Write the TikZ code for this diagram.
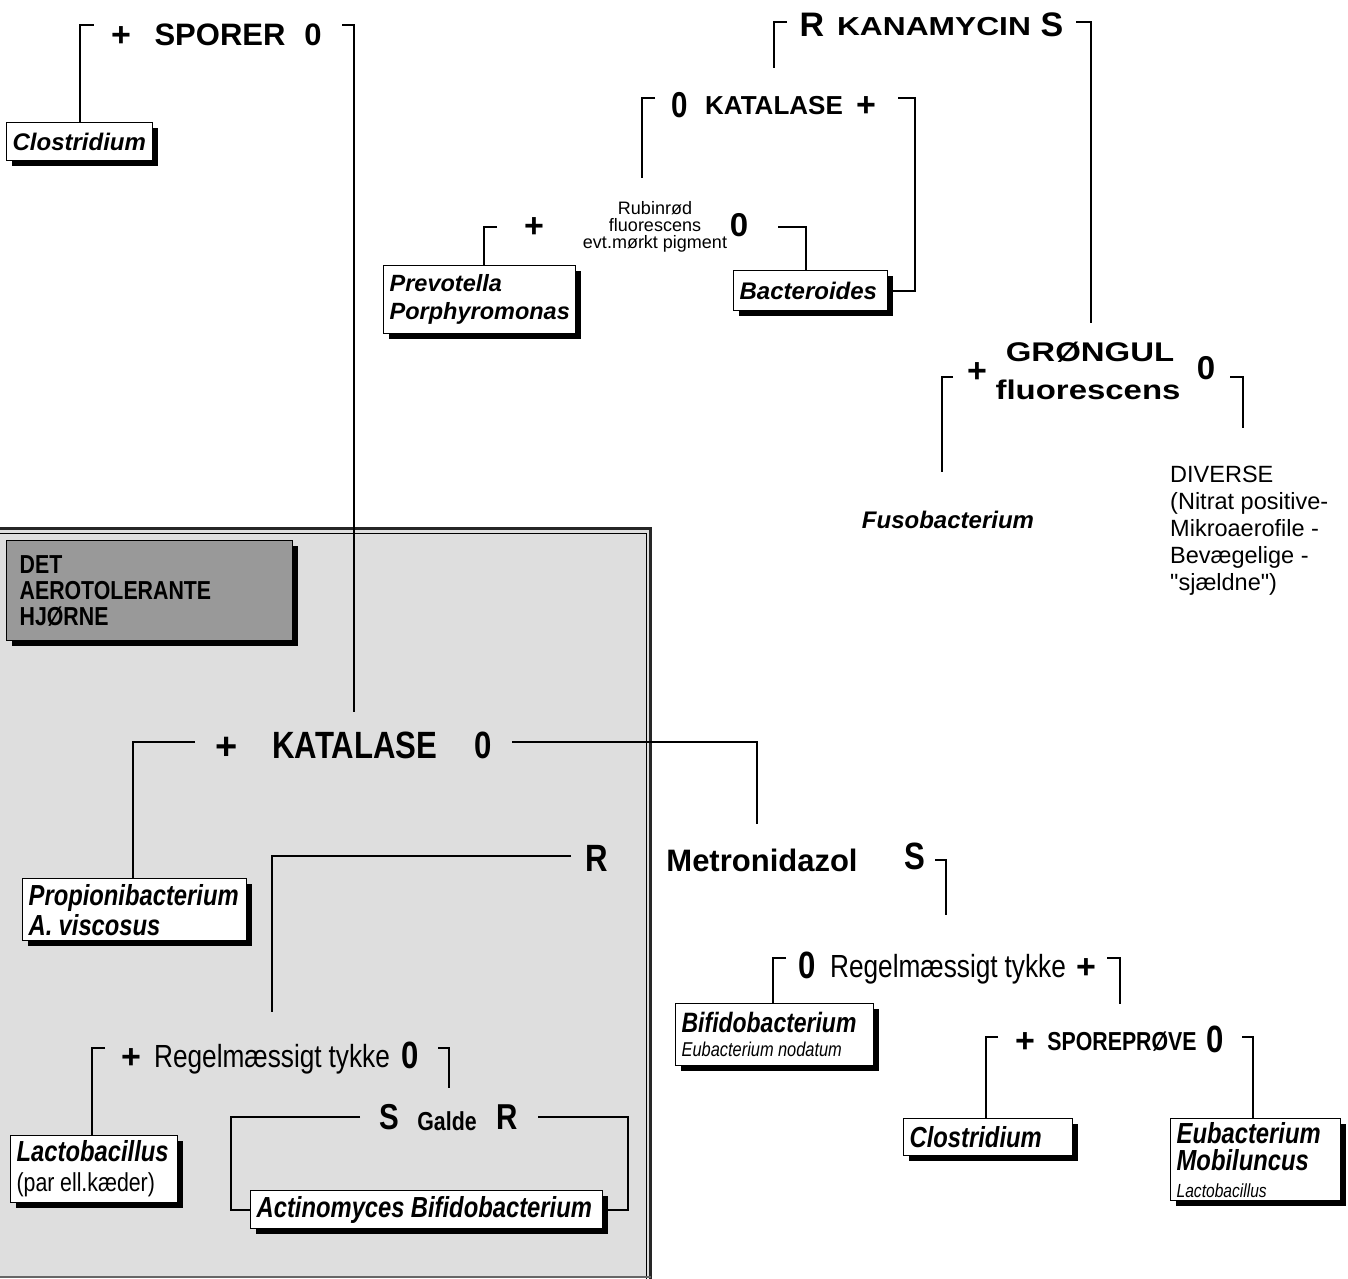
\documentclass[tikz,border=0pt]{standalone}
\usepackage{fontspec}
\setmainfont{Liberation Sans}
\newfontfamily\reg{Liberation Sans}
\newfontfamily\nar[FakeStretch=0.82,WordSpace=0.95]{Liberation Sans}
\newfontfamily\wid[FakeStretch=1.22]{Liberation Sans}
\newcommand\natsp{\spaceskip=0pt\relax\xspaceskip=0pt\relax\frenchspacing}
\usetikzlibrary{shadows}
\begin{document}
\begin{tikzpicture}[x=1pt,y=-1pt,
  lab/.style={anchor=base,inner sep=0pt},
  conn/.style={line width=1.7pt},
  box/.style={draw,line width=1.3pt,fill=white,anchor=north west,align=left,
    inner xsep=6pt,inner ysep=0pt,
    drop shadow={shadow xshift=5pt,shadow yshift=-5pt,opacity=1,fill=black}},
  bigplus/.style={lab,font=\bfseries\fontsize{34}{34}\selectfont},
  narzero/.style={lab,font=\nar\bfseries\fontsize{38}{38}\selectfont}
]
\useasboundingbox (0,0) rectangle (1348,1278);

% gray corner
\fill[black!13] (0,528) rectangle (651,1278);
\draw[line width=2.5pt,black!85] (-5,528.5) -- (650.5,528.5) -- (650.5,1283);
\draw[line width=0.8pt] (-5,533) -- (646.5,533) -- (646.5,1283);
\draw[line width=2pt,black!60] (-5,1276.5) -- (651,1276.5);

% ---------- SPORER ----------
\node[bigplus] (spP) at (121,46) {+};
\node[lab,font=\bfseries\fontsize{31}{31}\selectfont] (spT) at (220,45) {SPORER};
\node[lab,font=\bfseries\fontsize{31}{31}\selectfont] (spZ) at (313,45) {0};
\node[box,text width=134,minimum height=38,font=\bfseries\itshape\fontsize{24}{28}\selectfont] (clos1) at (6,122) {Clostridium};
\coordinate (spL) at (94,25);
\coordinate (spR) at (342,25);
\coordinate (katTop) at (354,712);

% ---------- KANAMYCIN ----------
\node[lab,font=\bfseries\fontsize{34}{34}\selectfont] (kaR) at (812,36) {R};
\node[lab,font=\wid\bfseries\fontsize{26}{26}\selectfont] (kaT) at (934,35) {KANAMYCIN};
\node[lab,font=\bfseries\fontsize{34}{34}\selectfont] (kaS) at (1052,36) {S};
\coordinate (kaL1) at (787,22);
\coordinate (kaL2) at (774,68);
\coordinate (kaR1) at (1076,22);
\coordinate (grTop) at (1091,323);

% ---------- top KATALASE ----------
\node[lab,font=\nar\bfseries\fontsize{36}{36}\selectfont] (ktZ) at (680,117) {0};
\node[lab,font=\bfseries\fontsize{26}{26}\selectfont] (ktT) at (774,114) {KATALASE};
\node[bigplus] (ktP) at (866,116) {+};
\coordinate (ktL1) at (655,98);
\coordinate (ktL2) at (642,178);
\coordinate (ktR1) at (898,98);

% ---------- Rubinrød ----------
\node[bigplus] (rbP) at (534,237) {+};
\node[lab,font=\fontsize{18}{17}\selectfont] (rb1) at (655,214) {Rubinrød};
\node[lab,font=\fontsize{18}{17}\selectfont] (rb2) at (655,231) {fluorescens};
\node[lab,font=\fontsize{18}{17}\selectfont] (rb3) at (655,248) {evt.mørkt pigment};
\node[lab,font=\bfseries\fontsize{33}{33}\selectfont] (rbZ) at (739,236) {0};
\coordinate (rbL1) at (497,227);
\coordinate (rbR1) at (778,227);
\node[box,text width=180,minimum height=68,font=\bfseries\itshape\fontsize{23.5}{28}\selectfont] (prev) at (383,265) {Prevotella\\Porphyromonas};
\node[box,text width=142,minimum height=40,font=\bfseries\itshape\fontsize{24}{28}\selectfont] (bact) at (733,270) {Bacteroides};

% ---------- GRØNGUL ----------
\node[lab,font=\wid\bfseries\fontsize{27}{27}\selectfont] (grT1) at (1090,361) {GRØNGUL};
\node[lab,font=\wid\bfseries\fontsize{27}{27}\selectfont] (grT2) at (1088,399) {fluorescens};
\node[bigplus] (grP) at (977,382) {+};
\node[lab,font=\bfseries\fontsize{33}{33}\selectfont] (grZ) at (1206,379) {0};
\coordinate (grL1) at (953,377);
\coordinate (grL2) at (942,472);
\coordinate (grR1) at (1230,377);
\coordinate (grR2) at (1243,428);
\node[lab,font=\bfseries\itshape\fontsize{24}{24}\selectfont] (fuso) at (948,528) {Fusobacterium};
\node[anchor=north west,inner sep=0pt,align=left,font=\reg\fontsize{23.5}{27}\selectfont] (div) at (1170,466)
  {\natsp DIVERSE\\(Nitrat positive-\\Mikroaerofile -\\Bevægelige -\\"sjældne")};

% ---------- aerotolerant corner ----------
\node[box,fill=black!40,text width=260,inner xsep=13pt,minimum height=100,font=\nar\bfseries\fontsize{26}{26}\selectfont] (det) at (6,540) {DET\\AEROTOLERANTE\\HJØRNE};

\node[lab,font=\bfseries\fontsize{38}{38}\selectfont] (k2P) at (227,759) {+};
\node[narzero] (k2T) at (355,758) {KATALASE};
\node[narzero] (k2Z) at (483,758) {0};
\coordinate (k2L1) at (195,742);
\coordinate (k2R1) at (512,742);
\coordinate (k2R2) at (757,824);

\node[narzero] (mR) at (597,871) {R};
\node[lab,font=\bfseries\fontsize{31}{31}\selectfont] (mT) at (762,871) {Metronidazol};
\node[narzero] (mS) at (915,869) {S};
\coordinate (mL1) at (571,856);
\coordinate (mL2) at (272,1012);
\coordinate (mR1) at (935,860);
\coordinate (mR2) at (946,915);

\node[box,text width=212,minimum height=62,font=\nar\bfseries\itshape\fontsize{29}{30}\selectfont] (prop) at (22,878) {\natsp Propionibacterium\\A. viscosus};

\node[bigplus] (r1P) at (131,1068) {+};
\node[lab,font=\nar\fontsize{32}{32}\selectfont] (r1T) at (272,1067) {Regelmæssigt tykke};
\node[narzero] (r1Z) at (410,1068) {0};
\coordinate (r1L1) at (105,1048);
\coordinate (r1R1) at (438,1048);
\coordinate (r1R2) at (449,1088);

\node[lab,font=\nar\bfseries\fontsize{36}{36}\selectfont] (gS) at (389,1129) {S};
\node[lab,font=\nar\bfseries\fontsize{26}{26}\selectfont] (gT) at (447,1130) {Galde};
\node[lab,font=\nar\bfseries\fontsize{36}{36}\selectfont] (gR) at (507,1129) {R};
\coordinate (gL1) at (360,1117);
\coordinate (gR1) at (538,1117);

\node[box,text width=155,minimum height=67,font=\nar\fontsize{29}{30}\selectfont] (lacto) at (10,1135)
  {\natsp{\bfseries\itshape Lactobacillus}\\{\fontsize{26}{30}\selectfont(par ell.kæder)}};
\node[box,text width=340,minimum height=38,font=\nar\bfseries\itshape\fontsize{29}{29}\selectfont] (actino) at (250,1190) {\natsp Actinomyces Bifidobacterium};

% ---------- lower right ----------
\node[narzero] (r2Z) at (807,978) {0};
\node[lab,font=\nar\fontsize{32}{32}\selectfont] (r2T) at (948,977) {Regelmæssigt tykke};
\node[bigplus] (r2P) at (1086,978) {+};
\coordinate (r2L1) at (786,958);
\coordinate (r2R1) at (1107,958);
\coordinate (r2R2) at (1120,1004);

\node[box,text width=186,minimum height=62,font=\nar\fontsize{28}{24}\selectfont] (bifido) at (675,1003)
  {\natsp{\bfseries\itshape Bifidobacterium}\\{\itshape\fontsize{20}{24}\selectfont Eubacterium nodatum}};

\node[bigplus] (spvP) at (1025,1052) {+};
\node[lab,font=\nar\bfseries\fontsize{26}{26}\selectfont] (spvT) at (1122,1050) {SPOREPRØVE};
\node[narzero] (spvZ) at (1215,1052) {0};
\coordinate (spvL1) at (998,1037);
\coordinate (spvR1) at (1242,1037);

\node[box,text width=157,minimum height=37,font=\nar\bfseries\itshape\fontsize{29}{29}\selectfont] (clos2) at (903,1118) {Clostridium};
\node[box,text width=158,minimum height=82,font=\nar\fontsize{29}{27}\selectfont] (eubac) at (1170,1118)
  {{\bfseries\itshape Eubacterium}\\{\bfseries\itshape Mobiluncus}\\{\itshape\fontsize{19}{27}\selectfont Lactobacillus}};

% ---------- connectors ----------
\draw[conn] (clos1.north) |- (spL);
\draw[conn] (spR) -| (katTop);
\draw[conn] (kaL1) -| (kaL2);
\draw[conn] (kaR1) -| (grTop);
\draw[conn] (ktL1) -| (ktL2);
\draw[conn] (ktR1) -| (bact.east -| 915,0) -- (bact.east);
\draw[conn] (rbL1) -| (prev.north -| 484,0);
\draw[conn] (rbR1) -| (bact.north -| 806,0);
\draw[conn] (grL1) -| (grL2);
\draw[conn] (grR1) -| (grR2);
\draw[conn] (k2L1) -| (prop.north -| 133,0);
\draw[conn] (k2R1) -| (k2R2);
\draw[conn] (mL1) -| (mL2);
\draw[conn] (mR1) -| (mR2);
\draw[conn] (r1L1) -| (lacto.north -| 92,0);
\draw[conn] (r1R1) -| (r1R2);
\draw[conn] (gL1) -| (actino.west -| 231,0) -- (actino.west);
\draw[conn] (gR1) -| (actino.east -| 628,0) -- (actino.east);
\draw[conn] (r2L1) -| (bifido.north -| 773,0);
\draw[conn] (r2R1) -| (r2R2);
\draw[conn] (spvL1) -| (clos2.north -| 986,0);
\draw[conn] (spvR1) -| (eubac.north -| 1253,0);
\end{tikzpicture}
\end{document}
